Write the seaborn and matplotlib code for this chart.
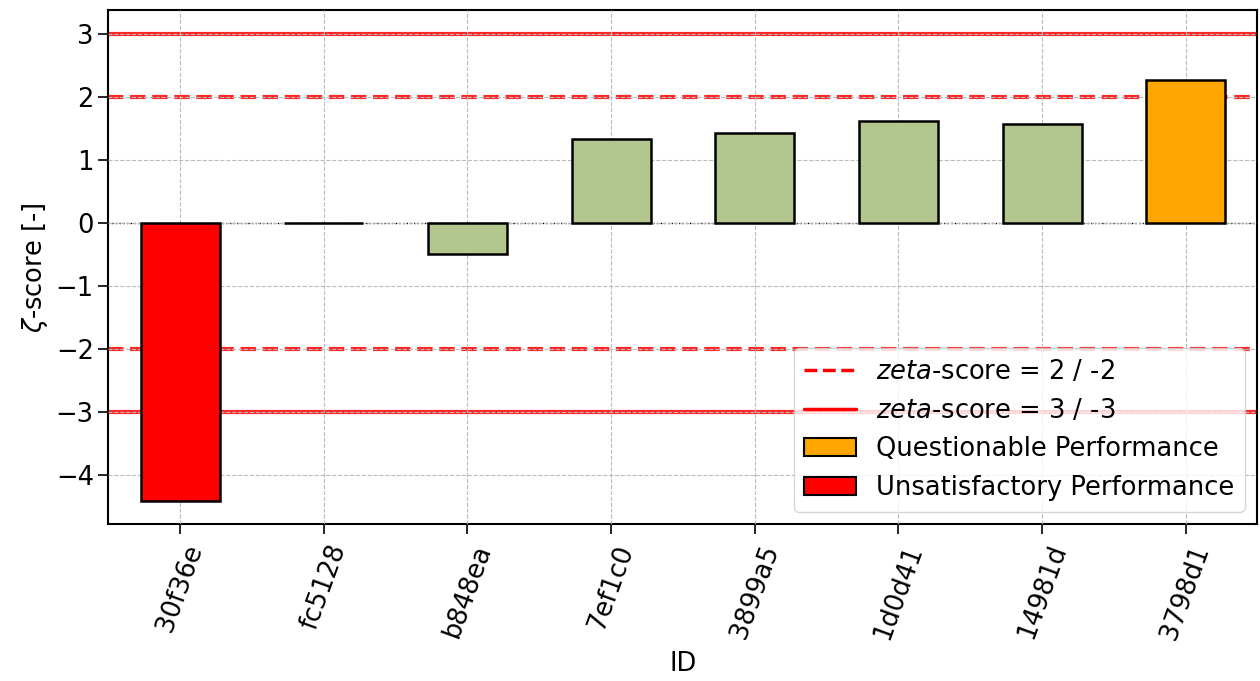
import matplotlib
matplotlib.use("Agg")
import matplotlib.pyplot as plt
import seaborn as sns
import pandas as pd
from matplotlib.patches import Patch
from matplotlib.lines import Line2D

ids = ["30f36e", "fc5128", "b848ea", "7ef1c0", "3899a5", "1d0d41", "14981d", "3798d1"]
zeta = [-4.42, 0.0, -0.50, 1.33, 1.43, 1.62, 1.57, 2.27]
colors = ["#ff0000", "#b3c68e", "#b3c68e", "#b3c68e", "#b3c68e", "#b3c68e", "#b3c68e", "#ffa500"]
limits_warn = [2, -2]
limits_action = [3, -3]

FS = 18.5

sns.set_style("ticks")
plt.rcParams["font.family"] = ["DejaVu Sans"]
plt.rcParams["font.size"] = FS
for k in ["text.color", "axes.labelcolor", "xtick.color", "ytick.color", "axes.edgecolor"]:
    plt.rcParams[k] = "black"

df = pd.DataFrame({"ID": ids, "zeta": zeta})

fig, ax = plt.subplots(figsize=(12.6, 6.81), dpi=100)
fig.subplots_adjust(left=0.086, right=0.998, top=0.985, bottom=0.23)

sns.barplot(data=df, x="ID", y="zeta", hue="ID", palette=colors, legend=False,
            width=0.55, edgecolor="black", linewidth=1.8, ax=ax, zorder=3, saturation=1)

for v in limits_warn:
    ax.axhline(v, color="red", ls="--", lw=3, alpha=0.85, zorder=1)
for v in limits_action:
    ax.axhline(v, color="red", ls="-", lw=3, alpha=0.85, zorder=1)
ax.axhline(0, color="black", ls=":", lw=1, zorder=2)

ax.grid(True, ls="--", color="#bbbbbb", lw=0.8, zorder=1.5)
ax.set_axisbelow(False)
for gl in ax.get_xgridlines() + ax.get_ygridlines():
    gl.set_zorder(1.5)

ax.set_xlim(-0.5, len(ids) - 0.5)
ax.set_ylim(-4.79, 3.38)
ax.set_yticks([-4, -3, -2, -1, 0, 1, 2, 3])
ax.tick_params(axis="both", labelsize=FS, width=1.2, length=7)
ax.tick_params(axis="x", pad=5)
plt.setp(ax.get_xticklabels(), rotation=70)
for s in ax.spines.values():
    s.set_linewidth(1.5)

ax.set_xlabel("ID", fontsize=FS, labelpad=6)
ax.set_ylabel(r"$\zeta$-score [-]", fontsize=FS)

handles = [
    Line2D([0], [0], color="red", ls="--", lw=2.5),
    Line2D([0], [0], color="red", ls="-", lw=2.5),
    Patch(facecolor="#ffa500", edgecolor="black", linewidth=1.5),
    Patch(facecolor="#ff0000", edgecolor="black", linewidth=1.5),
]
labels = [r"$\it{zeta}$-score = 2 / -2", r"$\it{zeta}$-score = 3 / -3",
          "Questionable Performance", "Unsatisfactory Performance"]
leg = ax.legend(handles, labels, loc="lower right", fontsize=FS, framealpha=0.8,
                fancybox=True)
leg.set_zorder(5)

fig.savefig("out.png", dpi=100)
